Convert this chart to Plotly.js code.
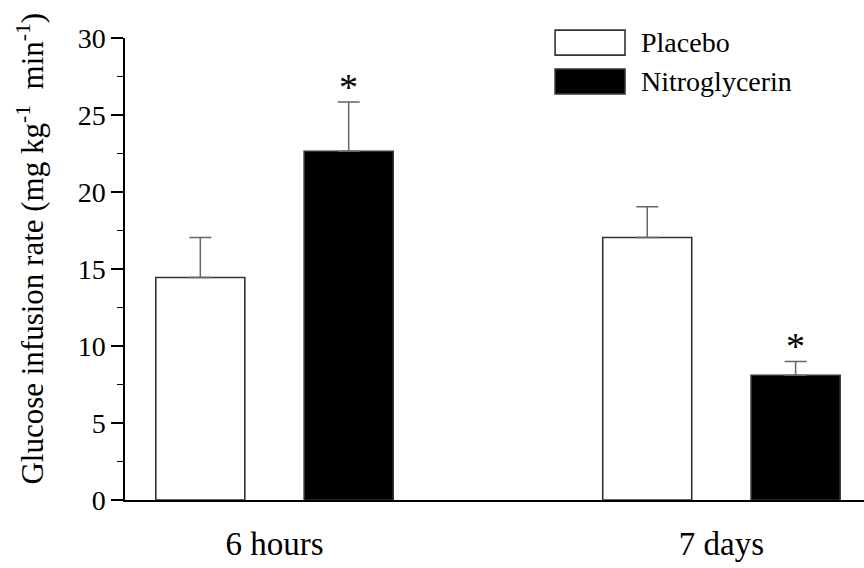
<!DOCTYPE html>
<html>
<head>
<meta charset="utf-8">
<script src="https://cdn.plot.ly/plotly-3.0.1.min.js"></script>
<style>html,body{margin:0;padding:0;background:#fff;}#chart{width:864px;height:568px;}</style>
</head>
<body>
<div id="chart"></div>
<script>
// ---- data ----
var categories = ["6 hours", "7 days"];
var seriesNames = ["Placebo", "Nitroglycerin"];
var placeboValues = [14.45, 17.05];
var placeboErrors = [2.6, 2.0];
var nitroValues = [22.65, 8.1];
var nitroErrors = [3.2, 0.9];
var significant = [[false, false], [true, true]]; // [series][category]
var yTitle = "Glucose infusion rate (mg kg<sup>-1</sup>  min<sup>-1</sup>)";

var FONT = "Liberation Serif, Times New Roman, serif";

var traces = [
  {
    type: "bar", name: seriesNames[0], x: categories, y: placeboValues,
    marker: {color: "#ffffff", line: {color: "#333333", width: 1.6}},
    error_y: {type: "data", symmetric: false, array: placeboErrors, arrayminus: [0, 0],
              color: "#666666", thickness: 1.5, width: 11},
    showlegend: false
  },
  {
    type: "bar", name: seriesNames[1], x: categories, y: nitroValues,
    marker: {color: "#000000", line: {color: "#333333", width: 1.6}},
    error_y: {type: "data", symmetric: false, array: nitroErrors, arrayminus: [0, 0],
              color: "#666666", thickness: 1.5, width: 11},
    showlegend: false
  }
];

var allVals = [placeboValues, nitroValues];
var allErrs = [placeboErrors, nitroErrors];
var groupShift = 74; // px offset of each bar within its group
var annotations = [];
for (var s = 0; s < 2; s++) {
  for (var c = 0; c < categories.length; c++) {
    if (significant[s][c]) {
      annotations.push({
        x: categories[c], y: allVals[s][c] + allErrs[s][c], xref: "x", yref: "y",
        text: "*", showarrow: false, xanchor: "center", yanchor: "middle",
        xshift: (s === 0 ? -groupShift : groupShift), yshift: 15,
        font: {family: FONT, size: 38, color: "#000"}
      });
    }
  }
}
// custom legend
var legendFill = ["#ffffff", "#000000"];
var legendY = [[0.963, 1.017], [0.879, 0.933]];
var shapes = [];
for (var i = 0; i < 2; i++) {
  shapes.push({type: "rect", xref: "paper", yref: "paper", x0: 0.582, x1: 0.6766,
    y0: legendY[i][0], y1: legendY[i][1], fillcolor: legendFill[i],
    line: {color: "#333333", width: 1.6}});
  annotations.push({xref: "paper", yref: "paper", x: 0.695, y: (legendY[i][0] + legendY[i][1]) / 2,
    xanchor: "left", yanchor: "middle", showarrow: false, text: seriesNames[i],
    font: {family: FONT, size: 28, color: "#000"}});
}
// y-axis title (as rotated annotation so it can sit slightly above centre, as in the reference)
annotations.push({xref: "paper", yref: "paper", x: -0.128, y: 0.545, xanchor: "center", yanchor: "middle",
  textangle: -90, showarrow: false, text: yTitle,
  font: {family: FONT, size: 31, color: "#000"}});

var layout = {
  width: 864, height: 568,
  margin: {l: 125, r: 0, t: 38, b: 68},
  paper_bgcolor: "#ffffff", plot_bgcolor: "#ffffff",
  barmode: "group", bargap: 0.336, bargroupgap: 0.4,
  font: {family: FONT, color: "#000"},
  xaxis: {
    type: "category", range: [-0.3345, 1.319], showline: true, linecolor: "#000", linewidth: 1.6,
    ticks: "", showgrid: false, zeroline: false, fixedrange: true,
    tickfont: {family: FONT, size: 33, color: "#000"}, ticklabelstandoff: 14
  },
  yaxis: {
    range: [0, 30], dtick: 5, tick0: 0, showline: true, linecolor: "#000", linewidth: 1.6,
    ticks: "outside", ticklen: 12, tickwidth: 1.6, tickcolor: "#000",
    minor: {dtick: 2.5, ticks: "outside", ticklen: 6, tickwidth: 1.6, tickcolor: "#000"},
    showgrid: false, zeroline: false,
    tickfont: {family: FONT, size: 28, color: "#000"}
  },
  shapes: shapes,
  annotations: annotations,
  showlegend: false
};

Plotly.newPlot("chart", traces, layout, {staticPlot: true, displayModeBar: false});
</script>
</body>
</html>
